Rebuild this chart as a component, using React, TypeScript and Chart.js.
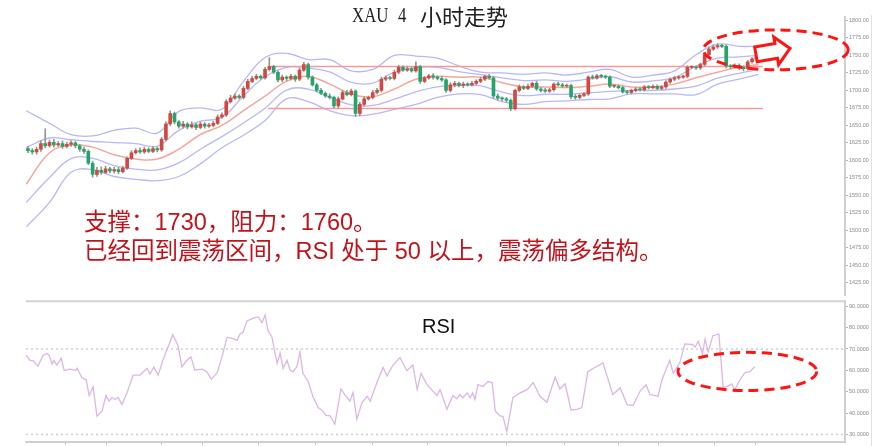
import React, { useEffect, useRef } from "react";
import { Chart, registerables } from "chart.js";

Chart.register(...registerables);

// ---------------- data ----------------
const candleOpen = [
  1617, 1614, 1612, 1616, 1624, 1621, 1626, 1622, 1624, 1620,
  1623, 1625, 1621, 1616, 1613, 1596, 1580, 1586, 1583, 1588,
  1585, 1587, 1584, 1589, 1603, 1611, 1614, 1612, 1616, 1613,
  1617, 1615, 1630, 1652, 1667, 1655, 1649, 1652, 1648, 1651,
  1647, 1652, 1649, 1650, 1653, 1662, 1665, 1684, 1689, 1692,
  1690, 1703, 1713, 1717, 1720, 1718, 1730, 1734, 1726, 1715,
  1719, 1717, 1720, 1716, 1729, 1737, 1719, 1708, 1700, 1696,
  1692, 1690, 1678, 1688, 1697, 1694, 1699, 1667, 1680, 1688,
  1690, 1697, 1700, 1716, 1718, 1717, 1726, 1733, 1729, 1731,
  1728, 1734, 1713, 1718, 1721, 1719, 1717, 1715, 1700, 1708,
  1710, 1707, 1709, 1708, 1710, 1713, 1716, 1720, 1718, 1692,
  1689, 1688, 1686, 1674, 1700, 1705, 1703, 1706, 1710, 1702,
  1700, 1699, 1701, 1709, 1708, 1706, 1707, 1691, 1690, 1693,
  1695, 1719, 1718, 1721, 1720, 1719, 1706, 1706, 1704, 1698,
  1697, 1700, 1702, 1701, 1705, 1704, 1706, 1703, 1705, 1712,
  1716, 1718, 1719, 1720, 1733, 1733, 1732, 1737, 1751, 1759,
  1762, 1764, 1763, 1735, 1734, 1736, 1733, 1731, 1741, 1745,
];
const candleClose = [
  1614, 1612, 1616, 1624, 1621, 1626, 1622, 1624, 1620, 1623,
  1625, 1621, 1616, 1613, 1596, 1580, 1586, 1583, 1588, 1585,
  1587, 1584, 1589, 1603, 1611, 1614, 1612, 1616, 1613, 1617,
  1615, 1630, 1652, 1667, 1655, 1649, 1652, 1648, 1651, 1647,
  1652, 1649, 1650, 1653, 1662, 1665, 1684, 1689, 1692, 1690,
  1703, 1713, 1717, 1720, 1718, 1730, 1734, 1726, 1715, 1719,
  1717, 1720, 1716, 1729, 1737, 1719, 1708, 1700, 1696, 1692,
  1690, 1678, 1688, 1697, 1694, 1699, 1667, 1680, 1688, 1690,
  1697, 1700, 1716, 1718, 1717, 1726, 1733, 1729, 1731, 1728,
  1734, 1713, 1718, 1721, 1719, 1717, 1715, 1700, 1708, 1710,
  1707, 1709, 1708, 1710, 1713, 1716, 1720, 1718, 1692, 1689,
  1688, 1686, 1674, 1700, 1705, 1703, 1706, 1710, 1702, 1700,
  1699, 1701, 1709, 1708, 1706, 1707, 1691, 1690, 1693, 1695,
  1719, 1718, 1721, 1720, 1719, 1706, 1706, 1704, 1698, 1697,
  1700, 1702, 1701, 1705, 1704, 1706, 1703, 1705, 1712, 1716,
  1718, 1719, 1720, 1733, 1733, 1732, 1737, 1751, 1759, 1762,
  1764, 1763, 1735, 1734, 1736, 1733, 1731, 1741, 1745, 1749,
];
const candleHigh = [
  1620, 1617, 1619, 1628, 1645, 1629, 1630, 1627, 1628, 1626,
  1628, 1627, 1623, 1619, 1615, 1599, 1590, 1591, 1592, 1590,
  1590, 1590, 1592, 1605, 1614, 1617, 1618, 1619, 1618, 1620,
  1619, 1633, 1655, 1671, 1669, 1657, 1656, 1654, 1655, 1653,
  1655, 1654, 1653, 1656, 1665, 1668, 1687, 1693, 1695, 1694,
  1706, 1716, 1720, 1723, 1722, 1733, 1747, 1736, 1728, 1722,
  1721, 1723, 1722, 1732, 1740, 1739, 1721, 1710, 1703, 1698,
  1695, 1692, 1691, 1700, 1700, 1702, 1701, 1683, 1691, 1692,
  1700, 1703, 1719, 1721, 1720, 1729, 1736, 1735, 1734, 1733,
  1741, 1736, 1720, 1723, 1724, 1721, 1720, 1717, 1711, 1713,
  1712, 1712, 1711, 1713, 1715, 1719, 1722, 1723, 1720, 1695,
  1691, 1690, 1688, 1702, 1708, 1707, 1709, 1712, 1713, 1704,
  1703, 1703, 1711, 1712, 1710, 1709, 1709, 1694, 1695, 1697,
  1721, 1722, 1723, 1723, 1722, 1721, 1708, 1708, 1706, 1700,
  1702, 1704, 1704, 1707, 1707, 1708, 1708, 1707, 1714, 1718,
  1720, 1721, 1722, 1735, 1735, 1735, 1739, 1753, 1762, 1765,
  1767, 1766, 1765, 1737, 1738, 1738, 1735, 1743, 1747, 1751,
];
const candleLow = [
  1611, 1609, 1609, 1613, 1618, 1619, 1619, 1620, 1617, 1618,
  1620, 1618, 1613, 1610, 1594, 1576, 1577, 1580, 1581, 1582,
  1582, 1581, 1582, 1587, 1601, 1609, 1610, 1610, 1611, 1611,
  1612, 1613, 1628, 1650, 1652, 1646, 1646, 1645, 1646, 1644,
  1645, 1646, 1647, 1648, 1651, 1660, 1663, 1682, 1687, 1688,
  1688, 1701, 1711, 1715, 1716, 1716, 1728, 1724, 1712, 1712,
  1714, 1715, 1713, 1714, 1727, 1716, 1706, 1698, 1694, 1690,
  1688, 1675, 1675, 1686, 1692, 1692, 1663, 1664, 1678, 1686,
  1688, 1695, 1698, 1714, 1715, 1715, 1724, 1727, 1727, 1726,
  1726, 1710, 1711, 1716, 1716, 1715, 1713, 1697, 1698, 1705,
  1705, 1704, 1706, 1706, 1708, 1711, 1714, 1716, 1689, 1686,
  1685, 1683, 1671, 1672, 1698, 1701, 1701, 1704, 1700, 1698,
  1697, 1697, 1699, 1706, 1704, 1704, 1688, 1687, 1688, 1691,
  1693, 1716, 1716, 1718, 1717, 1704, 1704, 1702, 1696, 1695,
  1695, 1698, 1699, 1699, 1702, 1702, 1701, 1701, 1703, 1710,
  1714, 1716, 1717, 1718, 1731, 1730, 1730, 1735, 1749, 1757,
  1760, 1761, 1732, 1731, 1732, 1730, 1728, 1729, 1739, 1743,
];

// Bollinger-style bands at every 5th candle
const bandIdx = [
  -0.4, 5, 10, 15, 20, 25, 30, 35, 40, 45, 50, 55, 60, 65, 70, 75, 80, 85,
  90, 95, 100, 105, 110, 115, 120, 125, 130, 135, 140, 145, 150, 155, 160, 165, 169.5,
];
const bandUpper2 = [
  1671, 1653, 1637, 1635, 1643, 1646, 1639, 1670, 1675, 1673, 1713, 1747, 1753, 1744, 1744,
  1728, 1730, 1750, 1749, 1746, 1735, 1726, 1725, 1723, 1725, 1722, 1726, 1730, 1719, 1722,
  1728, 1751, 1766, 1763, 1763,
];
const bandUpper1 = [
  1618.5, 1632, 1629.5, 1627, 1625.5, 1624, 1620.5, 1643, 1656, 1661.5, 1692, 1719.5, 1733,
  1732, 1726.5, 1711.5, 1710.5, 1726, 1732.5, 1733, 1727, 1722.5, 1718, 1714, 1715, 1713, 1716,
  1719.5, 1712, 1713.5, 1718.5, 1734.5, 1746, 1748, 1750,
];
const bandMid = [
  1566, 1611, 1622, 1619, 1608, 1602, 1602, 1616, 1637, 1650, 1671, 1692, 1713, 1720, 1709,
  1695, 1691, 1702, 1716, 1720, 1719, 1719, 1711, 1705, 1705, 1704, 1706, 1709, 1705, 1705,
  1709, 1718, 1726, 1733, 1737,
];
const bandLower1 = [
  1540, 1575.5, 1602.5, 1603, 1592.5, 1587.5, 1586.5, 1596.5, 1616, 1634, 1653.5, 1674.5,
  1700.5, 1702, 1690, 1679.5, 1678.5, 1687.5, 1698, 1705, 1707, 1706.5, 1697.5, 1692.5, 1694.5,
  1694.5, 1696.5, 1698.5, 1700, 1700, 1702, 1706, 1717.5, 1724.5, 1730,
];
const bandLower2 = [
  1505, 1540, 1583, 1587, 1577, 1573, 1571, 1577, 1595, 1618, 1636, 1657, 1688, 1684, 1671,
  1664, 1666, 1673, 1680, 1690, 1695, 1694, 1684, 1680, 1684, 1685, 1687, 1688, 1695, 1695,
  1695, 1694, 1709, 1716, 1723,
];

// horizontal range lines
const rangeSpan = [55.7, 170.5];
const resistanceLevel = 1734;
const supportLevel = 1674;

const priceTicks = [
  1425, 1450, 1475, 1500, 1525, 1550, 1575, 1600, 1625, 1650, 1675, 1700, 1725, 1750, 1775, 1800,
];

// RSI
const rsiIdx = [
  -0.4, 0.5, 1.2, 2.3, 3.5, 4.4, 4.9, 5.6, 6.0, 6.7, 7.7, 8.4, 9.7, 11.1, 11.4, 12.5, 13.5,
  14.2, 15.1, 16.0, 17.2, 18.1, 18.8, 19.5, 20.2, 20.9, 21.8, 23.0, 24.4, 26.0, 27.6, 28.3,
  29.2, 30.2, 31.3, 33.6, 34.8, 35.7, 36.9, 37.8, 38.7, 40.4, 41.5, 42.5, 43.9, 45.0, 46.2,
  47.6, 48.5, 49.2, 49.9, 50.8, 52.2, 53.4, 54.3, 55.0, 55.7, 56.6, 57.8, 58.5, 59.2, 60.1,
  60.8, 61.5, 62.4, 63.1, 63.8, 65.0, 66.1, 67.3, 68.2, 69.1, 70.1, 71.2, 72.6, 73.5, 74.7,
  75.4, 76.3, 77.5, 78.7, 79.4, 80.5, 81.2, 82.4, 83.3, 84.7, 86.3, 87.9, 89.3, 90.3, 91.2,
  92.6, 94.9, 95.6, 97.2, 98.6, 99.5, 100.2, 100.9, 101.9, 102.6, 103.2, 103.7, 104.4, 105.6,
  106.7, 107.7, 108.4, 109.5, 110.2, 111.1, 112.5, 114.2, 115.8, 117.2, 118.8, 120.4, 122.3,
  123.4, 124.6, 126.0, 127.4, 128.5, 129.9, 131.1, 133.4, 135.7, 137.4, 139.0, 140.4, 142.0,
  143.4, 144.3, 146.2, 147.1, 148.9, 149.7, 151.3, 152.4, 154.1, 154.8, 155.5, 156.5, 157.1,
  157.8, 158.9, 160.3, 161.3, 162.2, 163.3, 164.0, 165.2, 166.3, 167.5, 168.6,
];
const rsiVal = [
  67, 64.7, 64.4, 62, 67, 68, 67, 63, 64.7, 62.5, 65.7, 60, 60.6, 60, 61, 56.5, 55.6,
  48.2, 52.4, 38.6, 41, 48.2, 45.6, 47.3, 46.4, 47.3, 44, 49.6, 57.8, 57.8, 61, 58.3,
  61.5, 57.8, 64.7, 76.7, 71.6, 61.7, 64.7, 66.3, 60.2, 60.6, 59.4, 55.9, 58.9, 66.3, 75.5,
  74.8, 74, 77, 77.8, 83.1, 84.3, 85, 82.3, 85.9, 78.5, 75.5, 63.2, 68.1, 60.9, 64.7,
  60.2, 59.4, 61.7, 68.6, 58.6, 54.8, 47.9, 42.6, 41.5, 39, 38.7, 34.9, 51.3, 48.7, 45.6,
  49.7, 37.2, 44.9, 47.9, 45.6, 51.8, 55.6, 61.4, 57.4, 62.5, 66, 59.8, 62.5, 51, 58.6,
  53.3, 48.2, 51, 41.8, 48.2, 46.7, 48.7, 47.2, 49.5, 47.2, 49.5, 46.4, 53.3, 52.5,
  54.8, 54.3, 41, 38.7, 38.5, 31.4, 47.2, 49.5, 51, 54.3, 47.9, 45.1, 56.8,
  51.3, 53.7, 41.5, 41.8, 42.6, 59.4, 60.9, 63.5, 48.7, 51.8, 44, 43.6, 50.2,
  53.3, 48.7, 47.9, 55.6, 64.7, 58.6, 64, 72.4, 72.1, 70.9, 73.6, 67.8, 74.7,
  68.6, 76.2, 77, 51.8, 52.5, 53.7, 51, 55.6, 58.9, 59.4, 61.7,
];
const rsiLevels = [70, 30];
const rsiTicks = [30, 40, 50, 60, 70, 80, 90];
const timeTicks = [8.6, 18.3, 30.9, 40.4, 53.4, 66.8, 80.0, 92.6, 111.1, 124.4, 137.1, 146.4, 159.2, 168.7];

// annotation shapes, in data units
const priceEllipse = { x: 173.5, y: 1758, rx: 16.8, ry: 28.5 };
const priceArrow = { x0: 168.9, y0: 1751.5, x1: 176.8, y1: 1760 };
const rsiEllipse = { x: 166.9, y: 59.5, rx: 16.1, ry: 8.95 };

// ---------------- layout / style ----------------
const X_MIN = -0.46;
const X_MAX = 189.56;
const UP = "#d4473f";
const DOWN = "#24a46a";
const WICK = "#8e988f";
const BAND = "#b8b8f7";
const MID = "#f5a79d";
const LEVEL = "#f39a9a";
const RSI_COLOR = "#dcb6e5";
const AXIS_FONT = { family: "'Liberation Sans', Arial, sans-serif", size: 5.5 };

type Ell = { x: number; y: number; rx: number; ry: number };
type Arr = { x0: number; y0: number; x1: number; y1: number };

function redMarks(ellipses: Ell[], arrows: Arr[]) {
  return {
    id: "redMarks",
    afterDraw(chart: any) {
      const ctx = chart.ctx as CanvasRenderingContext2D;
      const xs = chart.scales.x;
      const ys = chart.scales.y;
      ctx.save();
      ctx.strokeStyle = "#ff1414";
      ctx.lineWidth = 3;
      for (const a of arrows) {
        const tx = xs.getPixelForValue(a.x0);
        const ty = ys.getPixelForValue(a.y0);
        const px = xs.getPixelForValue(a.x1);
        const py = ys.getPixelForValue(a.y1);
        const dx = px - tx;
        const dy = py - ty;
        const L = Math.hypot(dx, dy);
        const ux = dx / L, uy = dy / L, nx = -uy, ny = ux;
        const head = 14, bh = 7.5, hh = 14;
        const bx = tx + ux * (L - head);
        const by = ty + uy * (L - head);
        ctx.setLineDash([]);
        ctx.lineJoin = "miter";
        ctx.beginPath();
        ctx.moveTo(tx + nx * bh, ty + ny * bh);
        ctx.lineTo(bx + nx * bh, by + ny * bh);
        ctx.lineTo(bx + nx * hh, by + ny * hh);
        ctx.lineTo(px, py);
        ctx.lineTo(bx - nx * hh, by - ny * hh);
        ctx.lineTo(bx - nx * bh, by - ny * bh);
        ctx.lineTo(tx - nx * bh, ty - ny * bh);
        ctx.closePath();
        ctx.fillStyle = "#ffffff";
        ctx.fill();
        ctx.stroke();
      }
      ctx.setLineDash([10, 6]);
      for (const e of ellipses) {
        const cx = xs.getPixelForValue(e.x);
        const cy = ys.getPixelForValue(e.y);
        const rx = Math.abs(xs.getPixelForValue(e.x + e.rx) - cx);
        const ry = Math.abs(ys.getPixelForValue(e.y + e.ry) - cy);
        ctx.beginPath();
        ctx.ellipse(cx, cy, rx, ry, 0, 0, Math.PI * 2);
        ctx.stroke();
      }
      ctx.restore();
    },
  };
}

const topBorder = {
  id: "topBorder",
  afterDraw(chart: any) {
    const { left, right, top } = chart.chartArea;
    const ctx = chart.ctx as CanvasRenderingContext2D;
    ctx.save();
    ctx.strokeStyle = "#d2d2d2";
    ctx.lineWidth = 2;
    ctx.beginPath();
    ctx.moveTo(left, top);
    ctx.lineTo(right + 1, top);
    ctx.stroke();
    ctx.restore();
  },
};

function bandLine(values: number[], color: string, width: number) {
  return {
    type: "line" as const,
    data: bandIdx.map((x, i) => ({ x, y: values[i] })),
    borderColor: color,
    borderWidth: width,
    pointRadius: 0,
    tension: 0.4,
    order: 3,
  };
}

function levelLine(v: number) {
  return {
    type: "line" as const,
    data: rangeSpan.map((x) => ({ x, y: v })),
    borderColor: LEVEL,
    borderWidth: 1.5,
    pointRadius: 0,
    order: 2,
  };
}

function yAxisCommon(ticks: number[], digits: number) {
  return {
    position: "right" as const,
    afterBuildTicks: (scale: any) => {
      scale.ticks = ticks.map((value) => ({ value }));
    },
    afterFit: (scale: any) => {
      scale.width = 36;
    },
    grid: { drawOnChartArea: false, tickLength: 3, color: "#b5b5b5", lineWidth: 1 },
    border: { display: true, color: "#cfcfcf", width: 2 },
    ticks: {
      padding: 1,
      font: AXIS_FONT,
      color: "#8a8a8a",
      autoSkip: false,
      callback: (v: any) => Number(v).toFixed(digits),
    },
  };
}

export default function App() {
  const topRef = useRef<HTMLCanvasElement>(null);
  const botRef = useRef<HTMLCanvasElement>(null);

  useEffect(() => {
    const idx = candleOpen.map((_, i) => i);
    const bodyColors = idx.map((i) => (candleClose[i] >= candleOpen[i] ? UP : DOWN));

    const top = new Chart(topRef.current as HTMLCanvasElement, {
      type: "bar",
      data: {
        datasets: [
          {
            type: "bar",
            data: idx.map((i) => ({ x: i, y: [candleOpen[i], candleClose[i]] })) as any,
            backgroundColor: bodyColors,
            borderWidth: 0,
            barThickness: 3,
            minBarLength: 1,
            grouped: false,
            order: 0,
          },
          {
            type: "bar",
            data: idx.map((i) => ({ x: i, y: [candleLow[i], candleHigh[i]] })) as any,
            backgroundColor: WICK,
            borderWidth: 0,
            barThickness: 1,
            grouped: false,
            order: 1,
          },
          bandLine(bandUpper2, BAND, 1.3),
          bandLine(bandUpper1, BAND, 1.3),
          bandLine(bandMid, MID, 1.5),
          bandLine(bandLower1, BAND, 1.3),
          bandLine(bandLower2, BAND, 1.3),
          levelLine(resistanceLevel),
          levelLine(supportLevel),
        ] as any,
      },
      options: {
        responsive: false,
        animation: false,
        layout: { padding: { left: 26, top: 17, right: 0, bottom: 0 } },
        plugins: { legend: { display: false }, tooltip: { enabled: false } },
        scales: {
          x: {
            type: "linear",
            min: X_MIN,
            max: X_MAX,
            display: false,
            offset: false,
            grid: { offset: false },
          },
          y: {
            type: "linear",
            min: 1406.7,
            max: 1804.9,
            ...yAxisCommon(priceTicks, 2),
          },
        },
      } as any,
      plugins: [redMarks([priceEllipse], [priceArrow])],
    });

    const bot = new Chart(botRef.current as HTMLCanvasElement, {
      type: "line",
      data: {
        datasets: [
          {
            data: rsiIdx.map((x, i) => ({ x, y: rsiVal[i] })),
            borderColor: RSI_COLOR,
            borderWidth: 1.3,
            pointRadius: 0,
            tension: 0,
          },
          ...rsiLevels.map((v) => ({
            data: [
              { x: X_MIN, y: v },
              { x: X_MAX, y: v },
            ],
            borderColor: "#cfcfcf",
            borderWidth: 1.5,
            borderDash: [2, 3],
            pointRadius: 0,
          })),
        ],
      },
      options: {
        responsive: false,
        animation: false,
        layout: { padding: { left: 26, top: 3, right: 0, bottom: 0 } },
        plugins: { legend: { display: false }, tooltip: { enabled: false } },
        scales: {
          x: {
            type: "linear",
            min: X_MIN,
            max: X_MAX,
            afterBuildTicks: (scale: any) => {
              scale.ticks = timeTicks.map((value) => ({ value }));
            },
            afterFit: (scale: any) => {
              scale.height = 3;
            },
            grid: { drawOnChartArea: false, tickLength: 3, color: "#b8b8b8" },
            border: { display: true, color: "#cfcfcf", width: 2 },
            ticks: { display: false },
          },
          y: {
            type: "linear",
            min: 26.65,
            max: 92.3,
            ...yAxisCommon(rsiTicks, 4),
          },
        },
      } as any,
      plugins: [topBorder, redMarks([rsiEllipse], [])],
    });

    return () => {
      top.destroy();
      bot.destroy();
    };
  }, []);

  const latin = "'Liberation Serif', 'Times New Roman', serif";
  const cjk = "'Noto Sans CJK SC', sans-serif";
  const redFont = "'Liberation Sans', Arial, 'Noto Sans CJK SC', sans-serif";

  return (
    <div
      style={{
        position: "absolute",
        left: 0,
        top: 0,
        width: 881,
        height: 446,
        background: "#ffffff",
        overflow: "hidden",
      }}
    >
      <canvas ref={topRef} width={881} height={300} style={{ position: "absolute", left: 0, top: 0 }} />
      <canvas ref={botRef} width={881} height={149} style={{ position: "absolute", left: 0, top: 297 }} />
      <div style={{ position: "absolute", left: 871, top: 15, width: 1, height: 431, background: "#e2e2e2" }} />

      {/* title */}
      <span
        style={{
          position: "absolute", left: 352, top: 5, fontFamily: latin, fontSize: 21, lineHeight: "21px",
          color: "#222", display: "inline-block", transform: "scaleX(0.8)", transformOrigin: "left center",
        }}
      >
        XAU
      </span>
      <span
        style={{
          position: "absolute", left: 398, top: 5, fontFamily: latin, fontSize: 21, lineHeight: "21px",
          color: "#222", display: "inline-block", transform: "scaleX(0.8)", transformOrigin: "left center",
        }}
      >
        4
      </span>
      <span
        style={{
          position: "absolute", left: 420, top: 4, fontFamily: cjk, fontSize: 22, lineHeight: "22px",
          color: "#222", whiteSpace: "pre",
        }}
      >
        小时走势
      </span>

      {/* commentary */}
      <div
        style={{
          position: "absolute", left: 84, top: 211, fontFamily: redFont, fontSize: 23.5, lineHeight: "23px",
          color: "#c2121a", whiteSpace: "pre",
        }}
      >
        支撑：1730，阻力：1760。
      </div>
      <div
        style={{
          position: "absolute", left: 84, top: 240, fontFamily: redFont, fontSize: 23.5, lineHeight: "23px",
          color: "#c2121a", whiteSpace: "pre",
        }}
      >
        已经回到震荡区间，RSI 处于 50 以上，震荡偏多结构。
      </div>

      {/* RSI label */}
      <div
        style={{
          position: "absolute", left: 422, top: 316, fontFamily: "'Liberation Sans', Arial, sans-serif",
          fontSize: 20, lineHeight: "20px", color: "#111",
        }}
      >
        RSI
      </div>
    </div>
  );
}
